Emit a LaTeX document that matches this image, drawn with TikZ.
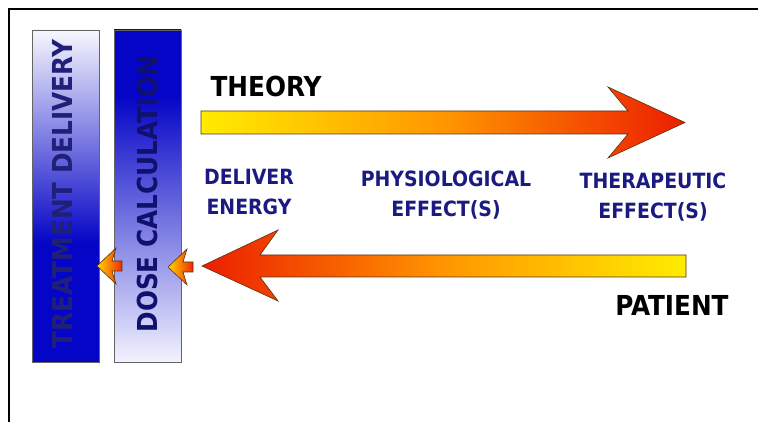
\documentclass[tikz,border=0pt]{standalone}
\usepackage{fontspec}
\setmainfont{DejaVu Sans Condensed}
\definecolor{boxblue}{RGB}{6,6,200}
\definecolor{navytext}{RGB}{26,26,128}
\definecolor{tdtext}{RGB}{32,32,120}
\definecolor{dctext}{RGB}{16,16,110}
\definecolor{ayellow}{RGB}{255,236,0}
\definecolor{aorange}{RGB}{255,150,0}
\definecolor{ared}{RGB}{236,30,0}
\definecolor{syellow}{RGB}{255,215,0}
\definecolor{sred}{RGB}{240,40,0}
\definecolor{aoutline}{RGB}{90,50,20}
\pgfdeclareverticalshading{tdshade}{100bp}{rgb(0bp)=(0.02,0.02,0.78); rgb(43bp)=(0.02,0.02,0.78); rgb(75bp)=(0.97,0.97,1); rgb(100bp)=(0.97,0.97,1)}
\pgfdeclareverticalshading{dcshade}{100bp}{rgb(0bp)=(0.95,0.95,1); rgb(25bp)=(0.95,0.95,1); rgb(65bp)=(0.02,0.02,0.78); rgb(100bp)=(0.02,0.02,0.78)}
\tikzset{
  panel/.style={draw={rgb,255:red,100;green,100;blue,100}, line width=0.8pt, minimum width=67pt, minimum height=332pt, inner sep=0pt},
  paneltext/.style={rotate=90, inner sep=0pt, font=\fontsize{27.5}{30}\selectfont\bfseries},
  bluelabel/.style={text=navytext, align=center, inner sep=0pt, font=\fontsize{21}{30}\selectfont\bfseries},
  blacklabel/.style={text=black, inner sep=0pt, font=\fontsize{27.5}{30}\selectfont\bfseries},
  bigarrow/.style={draw=aoutline, line width=0.6pt, line join=miter},
  smallarrow/.style={draw=aoutline, line width=0.6pt, left color=syellow, right color=sred}
}
\begin{document}
\begin{tikzpicture}[x=1pt,y=-1pt]
\useasboundingbox (0,0) rectangle (758,422);
% frame
\draw[line width=1.1pt] (9,422) -- (9,9) -- (758,9);
% panels
\node[panel, shading=tdshade] (td) at (65.5,196) {};
\node[panel, shading=dcshade] (dc) at (147.5,196) {};
\node[paneltext, text=tdtext] (tdlabel) at (62.5,194) {TREATMENT DELIVERY};
\node[paneltext, text=dctext] (dclabel) at (147.5,194) {DOSE CALCULATION};
% labels
\node[blacklabel] (theory) at (266,86) {THEORY};
\node[blacklabel] (patient) at (672,305) {PATIENT};
\node[bluelabel] (deliver) at (249,192) {DELIVER\\ENERGY};
\node[bluelabel] (physio) at (446,195) {PHYSIOLOGICAL\\EFFECT(S)};
\node[bluelabel] (thera) at (653,197) {THERAPEUTIC\\EFFECT(S)};
% big arrows
\coordinate (toptip) at (685,122.5);
\coordinate (bottip) at (202,266);
\draw[bigarrow, left color=ayellow, right color=ared, middle color=aorange]
  (201,111) -- (628,111) -- (608,87) -- (toptip) -- (608,158) -- (628,134) -- (201,134) -- cycle;
\draw[bigarrow, left color=ared, right color=ayellow, middle color=aorange]
  (686,255) -- (260,255) -- (278,230) -- (bottip) -- (278,301) -- (260,277) -- (686,277) -- cycle;
% small arrows
\coordinate (s1) at (97,266);
\coordinate (s2) at (168,267);
\foreach \t in {s1,s2}{
  \draw[smallarrow] (\t) -- ++(19,-18) -- ++(-4,13) -- ++(10,0) -- ++(0,10) -- ++(-10,0) -- ++(4,13) -- cycle;
}
\end{tikzpicture}
\end{document}
